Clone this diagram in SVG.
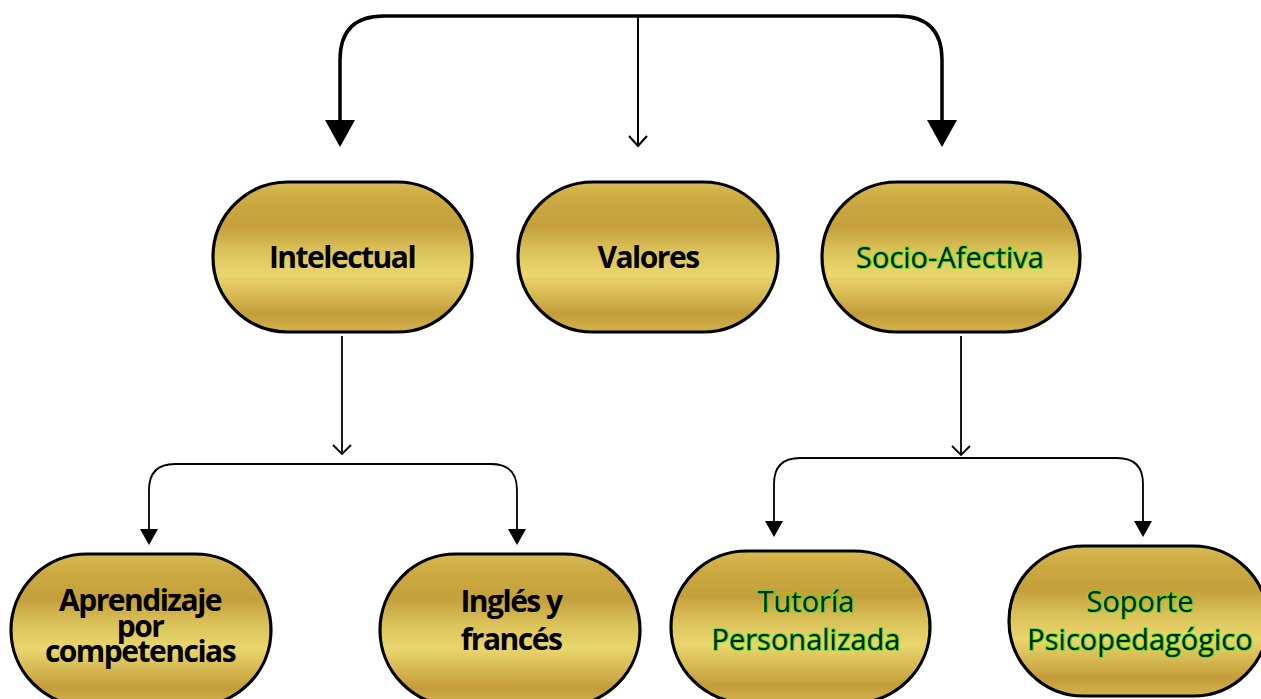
<svg xmlns="http://www.w3.org/2000/svg" width="1261" height="699" viewBox="0 0 1261 699">
<defs>
<linearGradient id="gold" x1="0" y1="0" x2="0" y2="1">
<stop offset="0" stop-color="#d8b953"/>
<stop offset="0.14" stop-color="#cba83f"/>
<stop offset="0.3" stop-color="#c4a03c"/>
<stop offset="0.46" stop-color="#dbc25b"/>
<stop offset="0.62" stop-color="#ead66e"/>
<stop offset="0.77" stop-color="#d4b651"/>
<stop offset="0.88" stop-color="#c29d3a"/>
<stop offset="1" stop-color="#d3b34f"/>
</linearGradient>
<style>
.pill{fill:url(#gold);stroke:#000;stroke-width:3.2}
.b{font-family:"Open Sans","Noto Sans",sans-serif;font-weight:700;font-size:30px;letter-spacing:-1.5px;fill:#000;text-anchor:middle}
.g{font-family:"Open Sans","Noto Sans",sans-serif;font-weight:400;font-size:29px;fill:#062006;stroke:#33ee00;stroke-width:1.7px;paint-order:stroke;text-anchor:middle}
.thick{fill:none;stroke:#000;stroke-width:3.5}
.med{fill:none;stroke:#000;stroke-width:2}
.thin{fill:none;stroke:#000;stroke-width:1.8}
.head{fill:#000}
</style>
</defs>
<rect width="1261" height="699" fill="#fff"/>
<g id="connectors">
<path class="thick" d="M340,122 V60 Q340,16 384,16 H898 Q942,16 942,60 V122"/>
<polygon class="head" points="325,120 355,120 340,147"/>
<polygon class="head" points="927,120 957,120 942,147"/>
<path class="med" d="M638,16 V146"/>
<polyline class="med" points="629,136 638,146 647,136"/>
<path class="thin" d="M342,336 V454"/>
<polyline class="thin" points="333,445 342,454 351,445"/>
<path class="thin" d="M149,530 V490 Q149,464 175,464 H491 Q517,464 517,490 V530"/>
<polygon class="head" points="140,529 158,529 149,545"/>
<polygon class="head" points="508,529 526,529 517,545"/>
<path class="thin" d="M961,336 V455"/>
<polyline class="thin" points="952,446 961,455 970,446"/>
<path class="thin" d="M774,522 V484 Q774,458 800,458 H1117 Q1143,458 1143,484 V522"/>
<polygon class="head" points="765,521 783,521 774,537"/>
<polygon class="head" points="1134,521 1152,521 1143,537"/>
</g>
<g id="node-intelectual">
<rect class="pill" x="213" y="182" width="259" height="150" rx="75"/>
<text class="b" x="342" y="268">Intelectual</text>
</g>
<g id="node-valores">
<rect class="pill" x="518" y="182" width="260" height="150" rx="75"/>
<text class="b" x="648" y="268">Valores</text>
</g>
<g id="node-socio">
<rect class="pill" x="822" y="182" width="258" height="150" rx="75"/>
<text class="g" x="950" y="268">Socio-Afectiva</text>
</g>
<g id="node-aprendizaje">
<rect class="pill" x="11" y="554" width="260" height="152" rx="76"/>
<text class="b" x="140" y="611" font-size="29">Aprendizaje</text>
<text class="b" x="140" y="637" font-size="29">por</text>
<text class="b" x="140" y="662" font-size="29">competencias</text>
</g>
<g id="node-ingles">
<rect class="pill" x="380" y="554" width="260" height="152" rx="76"/>
<text class="b" x="511" y="612">Inglés y</text>
<text class="b" x="511" y="650">francés</text>
</g>
<g id="node-tutoria">
<rect class="pill" x="671" y="551" width="259" height="152" rx="76"/>
<text class="g" x="806" y="612">Tutoría</text>
<text class="g" x="806" y="650">Personalizada</text>
</g>
<g id="node-soporte">
<rect class="pill" x="1009" y="546" width="259" height="150" rx="75"/>
<text class="g" x="1140" y="612">Soporte</text>
<text class="g" x="1140" y="650">Psicopedagógico</text>
</g>
</svg>
